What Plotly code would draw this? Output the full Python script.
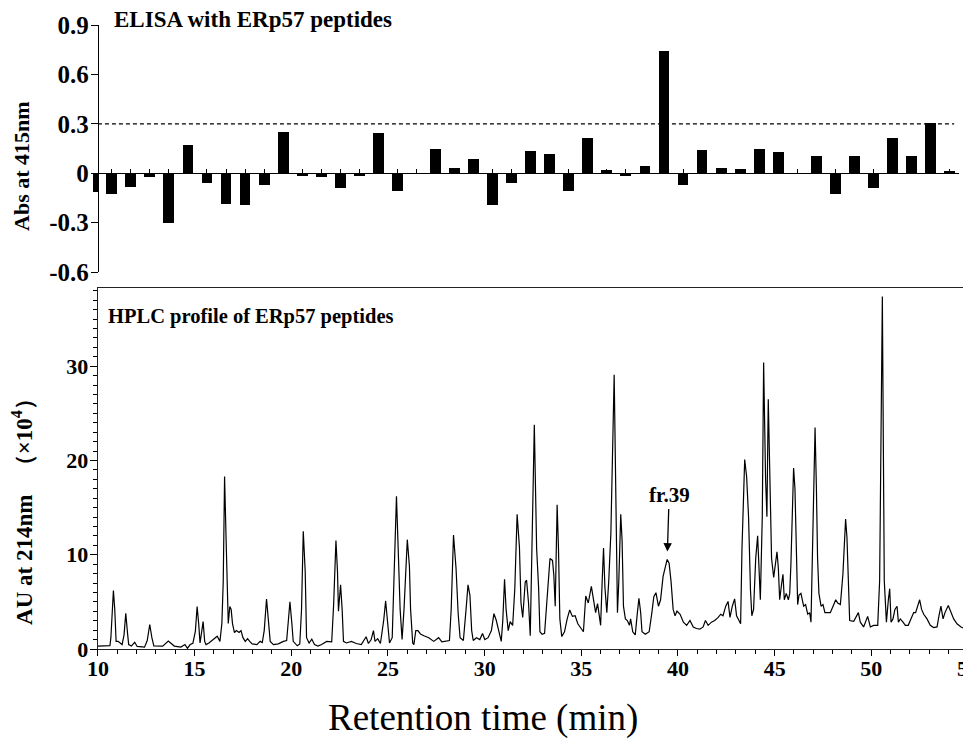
import numpy as np
import plotly.graph_objects as go

# ---------------- data ----------------
FRACTIONS = list(range(9, 55))
ELISA_ABS = [-0.112, -0.126, -0.082, -0.024, -0.303, 0.171, -0.062, -0.185, -0.193, -0.074,
             0.251, -0.016, -0.024, -0.090, -0.016, 0.243, -0.106, 0.0, 0.146, 0.032,
             0.084, -0.195, -0.062, 0.134, 0.118, -0.108, 0.215, 0.018, -0.018, 0.042,
             0.740, -0.070, 0.138, 0.030, 0.026, 0.150, 0.126, 0.0, 0.106, -0.128,
             0.106, -0.090, 0.215, 0.106, 0.307, 0.014]
THRESHOLD = 0.3

HPLC_TIME = [10.0, 10.36, 10.62, 10.67, 10.74, 10.8, 10.87, 10.94, 11.04, 11.15, 11.25, 11.35, 11.44, 11.52,
             11.59, 11.73, 11.9, 12.03, 12.41, 12.55, 12.68, 12.79, 12.89, 13.35, 13.64, 13.95, 14.29, 14.5,
             14.63, 14.77, 14.91, 15.04, 15.13, 15.21, 15.28, 15.37, 15.44, 15.52, 15.59, 15.74, 15.91, 16.17,
             16.31, 16.41, 16.48, 16.55, 16.63, 16.68, 16.74, 16.82, 16.89, 16.96, 17.06, 17.16, 17.3, 17.4,
             17.5, 17.62, 17.74, 17.85, 17.98, 18.22, 18.39, 18.5, 18.6, 18.72, 18.8, 18.91, 19.08, 19.33,
             19.59, 19.76, 19.85, 19.93, 20.03, 20.1, 20.31, 20.44, 20.53, 20.62, 20.72, 20.79, 20.92, 21.06,
             21.2, 21.38, 21.57, 21.83, 22.09, 22.19, 22.31, 22.39, 22.44, 22.55, 22.63, 22.7, 22.85, 23.11,
             23.36, 23.62, 23.87, 23.99, 24.13, 24.25, 24.33, 24.47, 24.61, 24.78, 24.88, 24.98, 25.08, 25.22,
             25.32, 25.44, 25.52, 25.63, 25.73, 25.83, 26.0, 26.11, 26.17, 26.28, 26.34, 26.44, 26.55, 26.68,
             26.86, 27.11, 27.37, 27.62, 27.79, 27.96, 28.18, 28.27, 28.39, 28.52, 28.63, 28.73, 28.9, 29.04,
             29.14, 29.24, 29.33, 29.41, 29.58, 29.75, 29.89, 30.01, 30.18, 30.35, 30.48, 30.6, 30.74, 30.86,
             30.94, 31.03, 31.11, 31.22, 31.32, 31.45, 31.56, 31.68, 31.8, 31.88, 31.97, 32.1, 32.17, 32.27,
             32.36, 32.44, 32.57, 32.69, 32.79, 32.86, 32.97, 33.1, 33.21, 33.38, 33.51, 33.58, 33.65, 33.75,
             33.82, 33.89, 33.99, 34.13, 34.27, 34.4, 34.54, 34.68, 34.82, 34.97, 35.11, 35.23, 35.36, 35.52,
             35.64, 35.74, 35.84, 35.91, 36.0, 36.08, 36.15, 36.22, 36.32, 36.42, 36.53, 36.7, 36.8, 36.87,
             36.94, 37.04, 37.11, 37.18, 37.28, 37.38, 37.49, 37.55, 37.66, 37.79, 37.9, 37.98, 38.07, 38.14,
             38.31, 38.51, 38.65, 38.75, 38.86, 38.99, 39.1, 39.23, 39.44, 39.54, 39.64, 39.75, 39.85, 39.95,
             40.11, 40.28, 40.45, 40.62, 40.79, 40.96, 41.13, 41.3, 41.42, 41.56, 41.73, 41.9, 42.08, 42.21,
             42.33, 42.47, 42.59, 42.69, 42.81, 42.93, 43.03, 43.24, 43.31, 43.45, 43.55, 43.65, 43.75, 43.82,
             43.91, 44.02, 44.12, 44.19, 44.26, 44.36, 44.43, 44.53, 44.6, 44.67, 44.78, 44.84, 44.95, 45.05,
             45.12, 45.19, 45.26, 45.36, 45.43, 45.5, 45.6, 45.71, 45.78, 45.84, 45.98, 46.05, 46.12, 46.19,
             46.26, 46.36, 46.5, 46.6, 46.71, 46.81, 46.88, 46.95, 47.09, 47.16, 47.22, 47.29, 47.4, 47.5,
             47.6, 47.74, 47.88, 48.02, 48.16, 48.26, 48.4, 48.53, 48.67, 48.74, 48.81, 48.88, 49.09, 49.33,
             49.43, 49.6, 49.81, 49.95, 50.12, 50.33, 50.43, 50.57, 50.67, 50.78, 50.88, 50.95, 51.02, 51.12,
             51.22, 51.33, 51.4, 51.5, 51.64, 51.76, 51.91, 52.05, 52.19, 52.29, 52.4, 52.5, 52.6, 52.71,
             52.88, 53.05, 53.22, 53.4, 53.5, 53.6, 53.71, 53.81, 53.98, 54.12, 54.26, 54.43, 54.64, 54.81,
             55.0]
HPLC_AU = [0.31, 0.31, 0.35, 1.2, 3.6, 6.2, 4.2, 0.81, 0.81, 0.64, 0.47, 1.5, 3.8, 1.9,
           0.47, 0.31, 0.71, 0.27, 0.2, 0.9, 2.6, 1.2, 0.34, 0.31, 0.85, 0.31, 0.2, 0.47,
           0.07, 0.47, 0.61, 1.9, 4.5, 2.7, 0.64, 1.9, 2.9, 0.81, 0.47, 0.64, 0.9, 1.35,
           0.81, 2.7, 7.1, 18.3, 11.5, 6.0, 2.7, 4.5, 4.2, 2.7, 1.75, 1.95, 1.75, 1.95,
           1.2, 0.81, 1.1, 0.81, 0.54, 0.47, 0.81, 0.68, 1.95, 5.3, 3.4, 0.81, 0.47, 0.54,
           0.81, 0.9, 3.05, 5.0, 2.7, 0.81, 0.34, 0.54, 4.2, 12.5, 8.2, 1.2, 0.64, 1.05,
           0.47, 0.31, 0.47, 0.81, 0.75, 4.7, 11.5, 8.2, 4.0, 6.8, 4.2, 0.81, 0.64, 0.81,
           0.58, 0.47, 1.3, 0.58, 1.0, 1.95, 0.81, 1.1, 0.58, 3.05, 5.1, 2.5, 0.64, 1.2,
           8.6, 16.2, 11.2, 4.2, 1.0, 4.2, 11.6, 8.8, 4.2, 0.64, 0.47, 1.95, 1.95, 1.6,
           1.4, 1.2, 0.81, 1.2, 0.75, 0.81, 0.9, 4.2, 12.1, 8.6, 3.8, 1.2, 0.9, 4.2,
           6.8, 5.7, 1.95, 0.9, 1.2, 1.0, 1.65, 1.0, 1.2, 1.95, 3.75, 3.05, 1.95, 0.81,
           3.05, 7.4, 4.2, 1.95, 2.9, 2.5, 6.4, 14.3, 10.8, 4.9, 3.35, 7.1, 7.3, 4.9,
           1.4, 10.8, 23.8, 10.64, 6.58, 1.83, 1.56, 1.66, 5.22, 9.6, 9.4, 7.8, 4.54, 15.3,
           10.6, 3.19, 1.32, 1.83, 3.19, 4.14, 3.46, 3.53, 2.68, 2.17, 1.83, 5.63, 4.88, 6.64,
           5.22, 3.86, 4.81, 3.53, 2.51, 7.25, 10.71, 6.58, 3.86, 7.25, 12.34, 29.1, 14.03, 3.86,
           7.25, 14.3, 11.5, 4.54, 3.19, 3.02, 2.51, 3.19, 1.83, 1.49, 3.86, 5.39, 3.86, 1.83,
           1.56, 1.83, 3.86, 5.56, 5.97, 4.54, 5.22, 7.7, 9.5, 9.1, 7.2, 4.2, 3.53, 4.03,
           3.69, 2.85, 2.51, 3.02, 2.34, 2.17, 2.1, 2.34, 3.02, 2.51, 2.85, 3.02, 3.36, 3.69,
           3.53, 4.54, 5.05, 3.36, 4.54, 5.32, 3.53, 2.68, 10.64, 20.1, 18.3, 14.03, 6.24, 3.53,
           4.2, 9.6, 12.0, 8.95, 5.22, 14.03, 30.4, 18.1, 14.03, 26.5, 17.42, 9.63, 7.59, 9.63,
           10.31, 8.61, 5.22, 6.92, 7.93, 5.22, 5.9, 5.22, 5.9, 8.95, 19.2, 17.0, 8.95, 4.71,
           5.73, 5.9, 4.54, 4.71, 3.69, 3.86, 2.85, 10.64, 23.5, 17.0, 9.63, 5.9, 4.54, 4.71,
           3.86, 3.86, 3.86, 4.54, 5.22, 4.88, 4.71, 7.93, 13.8, 11.8, 6.24, 3.02, 2.93, 3.86,
           2.85, 2.34, 3.46, 2.34, 2.51, 2.51, 7.25, 37.4, 7.25, 2.85, 5.2, 6.4, 2.85, 3.19,
           4.2, 4.54, 2.85, 3.19, 2.85, 2.51, 2.51, 3.19, 3.86, 3.86, 4.54, 5.22, 4.2, 3.69,
           3.19, 2.51, 2.27, 2.34, 3.53, 4.54, 3.19, 3.86, 4.61, 3.86, 3.19, 2.68, 2.34, 2.17,
           2.85]

HPLC_TICKS = [10, 15, 20, 25, 30, 35, 40, 45, 50, 55]
AU_TICKS = [0, 10, 20, 30]
ABS_TICKS = [-0.6, -0.3, 0, 0.3, 0.6, 0.9]
ABS_TICKTEXT = ["-0.6", "-0.3", "0", "0.3", "0.6", "0.9"]
MARKED_FRACTION = 39

# ---------------- layout geometry (pixels) ----------------
SERIF = "Liberation Serif"
W, H = 971, 743
ML, MR, MT, MB = 85, 0, 17, 102
PW, PH = W - ML - MR, H - MT - MB


def px_x(p):
    return (p - ML) / PW


def px_y(p):
    return (H - MB - p) / PH


top_dom = [px_y(264), 1.0]
low_dom = [0.0, px_y(280)]
top_range = [-0.6, 0.9]
zero_pos = top_dom[0] + (0 - top_range[0]) / (top_range[1] - top_range[0]) * (top_dom[1] - top_dom[0])
axis_x = px_x(90)

fig = go.Figure()

fig.add_trace(go.Bar(x=FRACTIONS, y=ELISA_ABS, width=0.57,
                     marker=dict(color="black", line=dict(width=0)),
                     xaxis="x", yaxis="y", showlegend=False))

fig.add_trace(go.Scatter(x=HPLC_TIME, y=HPLC_AU, mode="lines",
                         line=dict(color="black", width=1.2),
                         xaxis="x2", yaxis="y2", showlegend=False))

top_tickfont = dict(family=SERIF, size=25, color="black", weight="bold")
low_tickfont = dict(family=SERIF, size=22, color="black", weight="bold")

fig.update_layout(
    width=W, height=H,
    margin=dict(l=ML, r=MR, t=MT, b=MB),
    paper_bgcolor="white", plot_bgcolor="white",
    showlegend=False,
    bargap=0,
    xaxis=dict(domain=[0.0, px_x(962)], range=[9.015, 54.5], anchor="free", position=zero_pos,
               showline=True, linecolor="black", linewidth=1.2, ticks="inside", ticklen=4,
               tickcolor="black", tick0=0, dtick=1, showticklabels=False, showgrid=False,
               zeroline=False),
    yaxis=dict(domain=top_dom, range=top_range, anchor="free", position=axis_x,
               showline=True, linecolor="black", linewidth=1.2, ticks="outside", ticklen=7,
               tickcolor="black", tickvals=ABS_TICKS, ticktext=ABS_TICKTEXT, tickfont=top_tickfont,
               ticklabelstandoff=-3, showgrid=False, zeroline=False),
    xaxis2=dict(domain=[axis_x, 1.0], range=[10, 55], anchor="y2",
                showline=True, mirror=True, linecolor="#222", linewidth=1.4,
                ticks="outside", ticklen=6, tickcolor="black", tickvals=HPLC_TICKS,
                ticklabeloverflow="allow", ticklabelstandoff=-7,
                minor=dict(dtick=1, tick0=0, ticks="outside", ticklen=4, tickcolor="black"),
                tickfont=low_tickfont, showgrid=False, zeroline=False),
    yaxis2=dict(domain=low_dom, range=[0, 38.3], anchor="x2",
                showline=True, mirror=True, linecolor="#222", linewidth=1.4,
                ticks="outside", ticklen=7, tickcolor="black", tickvals=AU_TICKS,
                ticklabelstandoff=-3,
                minor=dict(dtick=1, tick0=0, ticks="outside", ticklen=4, tickcolor="black"),
                tickfont=low_tickfont, showgrid=False, zeroline=False),
)

# threshold dashed line
fig.add_shape(type="line", xref="paper", yref="y", x0=axis_x, x1=px_x(957),
              y0=THRESHOLD, y1=THRESHOLD, line=dict(color="black", width=1.3, dash="4px,3px"))

# fraction 39 arrow, pointing at the HPLC peak of that fraction
t_arr = np.array(HPLC_TIME)
a_arr = np.array(HPLC_AU)
win = (t_arr >= MARKED_FRACTION) & (t_arr <= MARKED_FRACTION + 1)
i_pk = int(np.argmax(np.where(win, a_arr, -1)))
fig.add_annotation(x=t_arr[i_pk], y=a_arr[i_pk], xref="x2", yref="y2",
                   text="<b>fr.%d</b>" % MARKED_FRACTION, showarrow=True,
                   ax=2, ay=-64, arrowhead=2, arrowsize=1.3, arrowwidth=1.3,
                   arrowcolor="black", standoff=8,
                   font=dict(family=SERIF, size=21, color="black"))

# panel titles
fig.add_annotation(x=px_x(104), y=px_y(11), xref="paper", yref="paper",
                   xanchor="left", yanchor="middle", showarrow=False,
                   text="<b>ELISA with ERp57 peptides</b>",
                   font=dict(family=SERIF, size=23, color="black"))
fig.add_annotation(x=px_x(98), y=px_y(308), xref="paper", yref="paper",
                   xanchor="left", yanchor="middle", showarrow=False,
                   text="<b>HPLC profile of ERp57 peptides</b>",
                   font=dict(family=SERIF, size=20.5, color="black"))

# axis titles
fig.add_annotation(x=px_x(13), y=px_y(158), xref="paper", yref="paper",
                   xanchor="center", yanchor="middle", showarrow=False, textangle=-90,
                   text="<b>Abs at 415nm</b>",
                   font=dict(family=SERIF, size=22, color="black"))
fig.add_annotation(x=px_x(13), y=px_y(498), xref="paper", yref="paper",
                   xanchor="center", yanchor="middle", showarrow=False, textangle=-90,
                   text="<b>AU at 214nm   （×10<sup>4</sup>）</b>",
                   font=dict(family=SERIF, size=23, color="black"))
fig.add_annotation(x=px_x(480), y=px_y(710), xref="paper", yref="paper",
                   xanchor="center", yanchor="middle", showarrow=False,
                   text="Retention time (min)",
                   font=dict(family=SERIF, size=37, color="black"))

fig.write_html("out.html")
